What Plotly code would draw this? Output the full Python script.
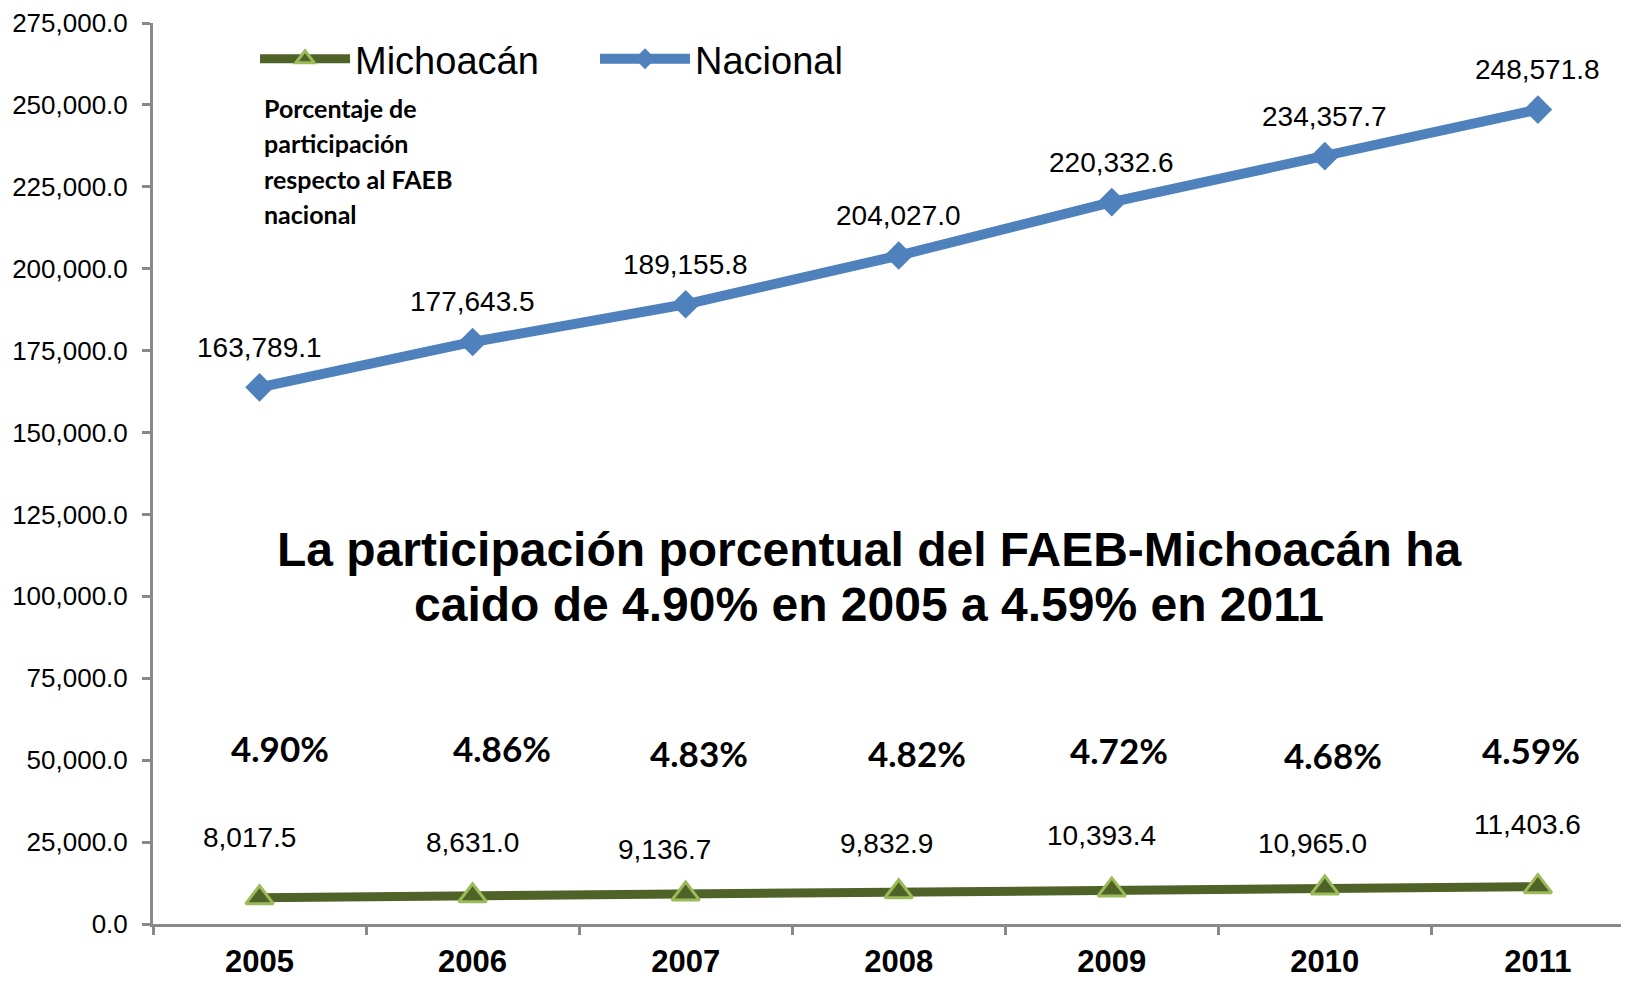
import plotly.graph_objects as go

years = ['2005', '2006', '2007', '2008', '2009', '2010', '2011']
nacional = [163789.1, 177643.5, 189155.8, 204027.0, 220332.6, 234357.7, 248571.8]
michoacan = [8017.5, 8631.0, 9136.7, 9832.9, 10393.4, 10965.0, 11403.6]
porcentajes = ['4.90%', '4.86%', '4.83%', '4.82%', '4.72%', '4.68%', '4.59%']

note_lines = ['Porcentaje de', 'participación', 'respecto al FAEB', 'nacional']
title_lines = ['La participación porcentual del FAEB-Michoacán ha',
               'caido de 4.90% en 2005 a 4.59% en 2011']

# desplazamientos manuales de las etiquetas (px), como en el original
mich_dx = [-10, 0, -21, -12, -10, -12, -10]
mich_dy = [60, 53, 45, 48, 54, 45, 62]
pct_dx = [20, 29, 13, 18, 7, 8, -7]
pct_dy = [176, 176, 171, 171, 174, 169, 174]

AZUL = '#4F81BD'
VERDE = '#4F6228'
VERDE_CLARO = '#9BBB59'
ARIAL = 'Liberation Sans, Arial, sans-serif'
CALIBRI = 'Lato, Carlito, Calibri, sans-serif'

fig = go.Figure()

fig.add_trace(go.Scatter(
    x=years, y=michoacan, name='Michoacán', mode='lines+markers',
    line=dict(color=VERDE, width=9),
    marker=dict(symbol='triangle-up', size=24, color=VERDE,
                line=dict(color=VERDE_CLARO, width=3))))

fig.add_trace(go.Scatter(
    x=years, y=nacional, name='Nacional', mode='lines+markers',
    line=dict(color=AZUL, width=10),
    marker=dict(symbol='diamond', size=22, color=AZUL)))

annotations = []
# en eje de categorías las anotaciones usan el índice de la categoría
for i, v in enumerate(nacional):
    annotations.append(dict(x=i, y=v, xref='x', yref='y', text=f'{v:,.1f}',
                            showarrow=False, yshift=40,
                            font=dict(family=ARIAL, size=28, color='black')))
for i, (v, dx, dy) in enumerate(zip(michoacan, mich_dx, mich_dy)):
    annotations.append(dict(x=i, y=v, xref='x', yref='y', text=f'{v:,.1f}',
                            showarrow=False, xshift=dx, yshift=dy,
                            font=dict(family=ARIAL, size=28, color='black')))
for i, (p, dx, dy) in enumerate(zip(porcentajes, pct_dx, pct_dy)):
    annotations.append(dict(x=i, y=0, xref='x', yref='y', text=f'<b>{p}</b>',
                            showarrow=False, xshift=dx, yshift=dy,
                            font=dict(family=CALIBRI, size=35, color='black')))
for i, line in enumerate(note_lines):
    annotations.append(dict(x=0.074, y=0.9057 - i * 0.0393, xref='paper', yref='paper',
                            xanchor='left', yanchor='middle', showarrow=False,
                            text=f'<b>{line}</b>',
                            font=dict(family=CALIBRI, size=25, color='black')))
for i, line in enumerate(title_lines):
    annotations.append(dict(x=0.488, y=0.416 - i * 0.061, xref='paper', yref='paper',
                            yanchor='middle', showarrow=False, text=f'<b>{line}</b>',
                            font=dict(family=ARIAL, size=48, color='black')))

fig.update_layout(
    width=1613, height=970,
    margin=dict(l=145, r=0, t=15, b=54),
    paper_bgcolor='white', plot_bgcolor='white',
    font=dict(family=ARIAL, color='black'),
    annotations=annotations,
    showlegend=True,
    legend=dict(orientation='h', x=0.0695, y=0.96, xanchor='left', yanchor='middle',
                itemwidth=90, entrywidth=235, entrywidthmode='pixels',
                font=dict(family=ARIAL, size=38, color='black'),
                bgcolor='rgba(0,0,0,0)'),
    xaxis=dict(type='category', range=[-0.5, 6.39], automargin=False,
               showline=True, linecolor='#898989', linewidth=3,
               ticks='outside', tickson='boundaries', ticklen=8, tickwidth=3,
               tickcolor='#898989', showgrid=False, zeroline=False,
               tickfont=dict(family=ARIAL, size=31, color='black'),
               tickprefix='<b>', ticksuffix='</b>', ticklabelstandoff=8),
    yaxis=dict(range=[0, 275000], dtick=25000, tickformat=',.1f', automargin=False,
               showline=True, linecolor='#898989', linewidth=3,
               ticks='outside', ticklen=8, tickwidth=3, tickcolor='#898989',
               showgrid=False, zeroline=False,
               tickfont=dict(family=ARIAL, size=26, color='black'),
               ticklabelstandoff=9),
)

fig.write_html('out.html')
